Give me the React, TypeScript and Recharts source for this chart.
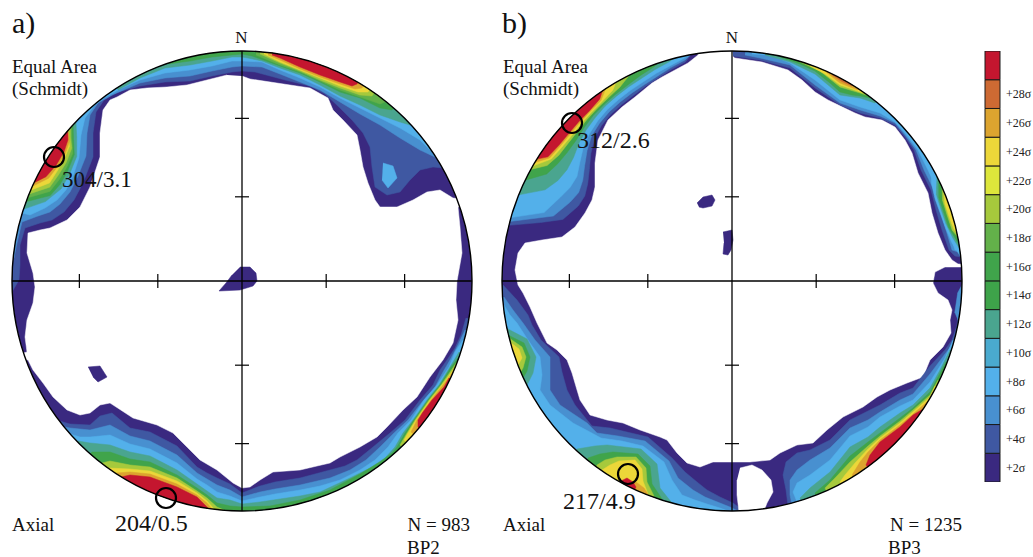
import React from 'react';
import { ScatterChart, Scatter, XAxis, YAxis, ReferenceLine, ReferenceDot, BarChart, Bar } from 'recharts';

type Pt = [number, number];
type Band = { sigma: number; pts: Pt[]; form?: 'rim' | 'closed' | 'polar' };

// projection units: primitive circle radius, x = east, y = north
const PRIMITIVE = 230;
const PAD = 5;
const SIZE = PRIMITIVE * 2 + PAD * 2;
const MARGIN = { top: PAD, right: PAD, bottom: PAD, left: PAD };
const TICK_PLUNGES = [30, 60];
const TICK_HALF = 7;

const SIGMA_LEVELS = [2, 4, 6, 8, 10, 12, 14, 16, 18, 20, 22, 24, 26, 28, 30];
const SIGMA_COLORS: Record<number, string> = {
  0: '#ffffff',
  2: '#3a2980', 4: '#3f58a2', 6: '#4890d0', 8: '#53b0ea', 10: '#4aaacf',
  12: '#4aa58f', 14: '#3ea34a', 16: '#40a44b', 18: '#63b14a', 20: '#a6c93c',
  22: '#dde63b', 24: '#ecd739', 26: '#dca42f', 28: '#cd6a33', 30: '#c4162f',
};

const FULL_DISK: Pt[] = [[-260, -260], [260, -260], [260, 260], [-260, 260]];

// ---------- a) BP2 ----------
const A_INTERIOR: Pt[] = [[0,205],[8,202],[48,196],[68,193],[86,183],[91,171],[101,161],[115,146],[118,131],[121,114],[126,98],[133,81],[138,74],[155,74],[171,81],[185,89],[198,91],[211,83],[238,80],[216,74],[218,54],[220,28],[215,0],[214,-19],[216,-39],[211,-62],[201,-79],[188,-96],[175,-116],[161,-129],[145,-146],[135,-156],[118,-166],[98,-176],[88,-182],[75,-185],[58,-189],[31,-191],[18,-199],[8,-206],[0,-207],[-9,-202],[-25,-189],[-42,-179],[-55,-166],[-69,-152],[-85,-144],[-109,-137],[-132,-122],[-142,-124],[-152,-132],[-162,-134],[-175,-129],[-189,-116],[-199,-102],[-209,-89],[-214,-79],[-237,-77],[-215,-71],[-217,-56],[-215,-39],[-209,-22],[-207,-6],[-209,8],[-215,28],[-214,48],[-202,51],[-192,53],[-175,61],[-162,74],[-152,94],[-142,124],[-142,148],[-139,171],[-132,181],[-125,184],[-112,191],[-95,193],[-75,194],[-55,196],[-35,201],[-15,206]];
const A_CENTRE_BLOB: Pt[] = [[-2,14],[8,14],[14,8],[15,0],[11,-5],[-2,-9],[-23,-10],[-16,-2],[-10,6]];
const A_WEST_BLOB: Pt[] = [[-154,-86],[-142,-85],[-135,-96],[-144,-101],[-149,-96]];

const A4_NORTH: Pt[] = [[-230,-11],[-223,1],[-222,16],[-222,36],[-217,53],[-202,58],[-190,61],[-178,69],[-168,81],[-159,98],[-149,124],[-149,148],[-146,169],[-138,181],[-124,189],[-102,195],[-77,199],[-52,200],[-30,205],[-10,209],[0,210],[13,209],[43,201],[68,195],[83,187],[98,173],[110,161],[121,148],[128,134],[130,114],[133,94],[145,86],[158,89],[168,101],[178,111],[191,114],[201,113]];
const A4_SOUTH: Pt[] = [[224,-37],[219,-54],[213,-67],[205,-79],[198,-89],[191,-104],[178,-119],[163,-139],[148,-152],[131,-166],[115,-179],[103,-185],[88,-189],[58,-197],[33,-201],[18,-205],[0,-212],[-12,-203],[-25,-197],[-35,-192],[-45,-186],[-65,-165],[-92,-151],[-112,-147],[-130,-132],[-142,-135],[-152,-144],[-172,-143],[-186,-139]];
const A6_NORTH: Pt[] = [[-228,23],[-225,38],[-220,59],[-204,65],[-192,69],[-182,77],[-172,89],[-164,105],[-156,125],[-155,148],[-152,166],[-144,178],[-130,186],[-102,198],[-77,203],[-52,205],[-30,210],[-10,214],[0,215],[20,214],[38,207],[58,199],[78,191],[98,179],[118,167],[138,156],[158,143],[178,131],[195,123]];
const A6_SOUTH: Pt[] = [[223,-49],[216,-64],[208,-79],[201,-91],[193,-106],[180,-121],[166,-139],[152,-152],[138,-166],[124,-179],[108,-189],[88,-197],[58,-204],[33,-208],[18,-211],[0,-216],[-12,-209],[-25,-204],[-35,-198],[-45,-192],[-65,-174],[-92,-160],[-112,-155],[-132,-144],[-152,-149],[-172,-147],[-182,-145]];
const A8_NORTH: Pt[] = [[-220,68],[-212,66],[-197,73],[-185,81],[-176,91],[-169,105],[-163,123],[-161,146],[-157,163],[-148,175],[-138,183],[-122,192],[-102,201],[-77,208],[-52,211],[-30,215],[-10,220],[0,220],[20,219],[38,211],[58,203],[78,194],[98,183],[118,173],[138,163],[158,153],[178,141],[188,131]];
const A8_SOUTH: Pt[] = [[221,-59],[213,-71],[207,-86],[195,-104],[182,-119],[169,-139],[156,-152],[146,-166],[133,-179],[118,-189],[98,-199],[78,-205],[58,-209],[33,-213],[18,-216],[0,-220],[-12,-215],[-25,-211],[-35,-204],[-45,-198],[-65,-182],[-92,-168],[-112,-163],[-132,-154],[-152,-156],[-162,-156],[-172,-153]];
const A8_SPOT: Pt[] = [[141,118],[151,115],[155,103],[146,93],[140,101]];
const A12_NW: Pt[] = [[288,231],[292,212],[297,203],[302,203],[307,207],[311,219],[314,231]];
const A12_TOP: Pt[] = [[-124,191],[-102,203],[-77,213],[-52,216],[-30,220],[-10,224],[0,224],[6,223],[20,220],[38,213],[58,206],[78,196],[98,185],[118,176],[138,166],[158,159],[168,156]];
const A12_SOUTH: Pt[] = [[217,-71],[208,-86],[197,-104],[185,-119],[171,-139],[161,-152],[153,-166],[143,-177],[128,-187],[108,-197],[78,-211],[58,-215],[18,-221],[0,-223],[-12,-219],[-25,-217],[-35,-210],[-45,-203],[-65,-189],[-92,-175],[-112,-171],[-132,-164],[-152,-162],[-164,-160]];
const A16_NW: Pt[] = [[290,231],[294,210],[298,206],[302,206],[307,210],[310,220],[313,231]];
const A16_TOP: Pt[] = [[-74,217],[-52,220],[-30,224],[-10,226],[0,227],[10,225],[38,215],[58,208],[78,199],[98,189],[118,183],[138,173],[150,171]];
const A16_SOUTH: Pt[] = [[216,-77],[209,-86],[198,-104],[186,-119],[172,-139],[163,-152],[155,-166],[150,-172],[138,-181],[118,-193],[88,-209],[58,-219],[28,-225],[0,-226],[-12,-225],[-25,-222],[-35,-214],[-45,-207],[-65,-194],[-92,-181],[-112,-178],[-132,-171],[-150,-171]];
const A18_NW: Pt[] = [[291,231],[295,212],[299,209],[303,209],[307,212],[310,222],[312.5,231]];
const A18_NE: Pt[] = [[14,226],[38,216],[58,209],[78,200],[98,191],[118,184],[138,177],[143,179]];
const A20_NW: Pt[] = [[292,231],[296,214],[300,212],[304,212],[308,216],[310,224],[312,231]];
const A20_NE: Pt[] = [[18,227],[38,218],[58,210],[78,201],[98,193],[118,186],[130,185]];
const A20_SE: Pt[] = [[215,-81],[199,-104],[187,-119],[173,-139],[165,-152],[158,-164]];
const A20_SW: Pt[] = [[-140,-182],[-132,-180],[-112,-184],[-92,-186],[-65,-197],[-45,-210],[-35,-217],[-25,-226],[-18,-229]];
const A24_NW: Pt[] = [[293,231],[297,216],[301,215],[305,216],[308,219],[311,231]];
const A24_NE: Pt[] = [[22,227],[38,219],[58,211],[78,203],[98,195],[116,189],[126,189]];
const A24_SE: Pt[] = [[214,-85],[200,-104],[188,-119],[174,-139],[166,-152],[162,-159]];
const A24_SW: Pt[] = [[-134,-187],[-112,-188],[-92,-190],[-65,-200],[-45,-212],[-35,-220],[-28,-228]];
const A26_NW: Pt[] = [[294,231],[298,219],[302,217],[306,218],[309,222],[311,231]];
const A26_NE: Pt[] = [[26,226],[38,221],[58,212],[78,204],[98,197],[113,192],[120,193]];
const A26_SE: Pt[] = [[211,-91],[201,-104],[189,-119],[175,-139],[169,-151]];
const A26_SW: Pt[] = [[-126,-192],[-112,-191],[-92,-193],[-65,-203],[-45,-214],[-35,-222],[-30,-228]];
const A30_NW: Pt[] = [[295,231],[298,222],[302,219],[306,220],[309,224],[311,231]];
const A30_NE: Pt[] = [[30,226],[38,223],[58,214],[78,206],[98,199],[110,195],[115,197]];
const A30_SE: Pt[] = [[207,-97],[202,-106],[190,-119],[181,-131],[176,-139],[176,-146]];
const A30_SW: Pt[] = [[-121,-196],[-112,-194],[-92,-196],[-65,-206],[-45,-216],[-37,-224],[-33,-228]];
const A_MAXIMA = [{ x: -188, y: 124 }, { x: -76, y: -217 }];

// ---------- b) BP3 ----------
const B_INTERIOR: Pt[] = [[3,223],[30,219],[56,211],[70,201],[83,189],[96,181],[123,168],[133,164],[150,161],[163,154],[173,141],[180,128],[186,108],[196,88],[200,68],[206,48],[213,31],[220,21],[226,17],[243,16],[228,14],[213,14],[203,9],[201,-2],[206,-12],[216,-19],[220,-29],[218,-39],[219,-52],[211,-66],[198,-79],[191,-96],[175,-102],[158,-109],[145,-116],[131,-126],[111,-136],[95,-149],[81,-162],[65,-164],[48,-172],[38,-179],[18,-181],[0,-181],[-19,-181],[-32,-186],[-45,-182],[-55,-172],[-65,-159],[-72,-156],[-92,-149],[-109,-142],[-125,-139],[-142,-134],[-152,-119],[-155,-109],[-160,-92],[-165,-79],[-175,-69],[-185,-62],[-195,-42],[-202,-26],[-209,-12],[-214,-4],[-217,11],[-214,28],[-207,38],[-190,41],[-170,44],[-157,54],[-147,68],[-140,81],[-137,94],[-137,118],[-134,141],[-124,161],[-110,174],[-97,184],[-80,198],[-70,204],[-57,211],[-44,218],[-34,226],[-34,250],[0,250],[1,225]];
const B_BLOB_NORTH: Pt[] = [[-35,78],[-29,84],[-20,86],[-17,81],[-20,75],[-29,73],[-33,74]];
const B_BLOB_AXIS: Pt[] = [[-9,49],[0,51],[1,41],[-1,31],[-4,26],[-9,27],[-8,38]];
const B_HOLE: Pt[] = [[8,-187],[20,-184],[30,-189],[39,-199],[41,-211],[35,-222],[28,-240],[8,-240],[5,-214],[5,-199]];

const B4_NW: Pt[] = [[284,230],[287,200],[290,180],[296,171],[300,170],[304,174],[308,181],[312,190],[316,198],[320,203],[324,206],[328,208],[332,210],[336,213],[340,216],[344,220],[348,224],[350,231]];
const B6_NW: Pt[] = [[285,230],[290,190],[296,180],[300,177],[304,180],[308,187],[312,195],[316,202],[320,206],[324,209],[328,211],[332,213],[336,215],[340,218],[344,222],[348,226],[350,231]];
const B8_NW: Pt[] = [[286,230],[290,200],[296,191],[300,187],[304,187],[308,193],[312,200],[316,205],[320,209],[324,212],[328,214],[332,216],[336,218],[340,221],[344,224],[348,228],[350,231]];
const B12_NW: Pt[] = [[292,230],[296,208],[300,201],[304,199],[308,201],[312,206],[316,210],[320,213],[324,216],[328,218],[332,220],[336,222],[340,225],[344,228],[346,231]];
const B16_NW: Pt[] = [[296,230],[300,214],[304,210],[308,209],[312,210],[316,213],[320,216],[324,218],[328,220],[332,222],[336,225],[340,228],[342,231]];
const B20_NW: Pt[] = [[299,230],[302,218],[306,214],[310,214],[314,215],[318,217],[322,219],[326,221],[330,224],[334,231]];
const B24_NW: Pt[] = [[300,230],[304,218],[308,216.5],[312,216.5],[316,218],[320,219.5],[324,221.5],[328,225],[330,231]];
const B26_NW: Pt[] = [[301,230],[304,220],[308,218.5],[312,218.5],[316,219.5],[320,221],[324,223],[327,231]];
const B30_NW: Pt[] = [[302,230],[304,222],[308,220],[312,220],[316,221],[320,222],[324,225],[326,231]];

const B4_NE: Pt[] = [[1,225],[28,221],[58,213],[83,193],[108,176],[128,168],[148,163],[163,156],[173,144],[182,131],[189,111],[199,91],[204,71],[210,51],[217,31],[223,25],[229,24]];
const B6_NE: Pt[] = [[13,226],[28,223],[58,216],[83,196],[108,178],[128,171],[148,165],[163,158],[173,146],[184,131],[192,111],[202,91],[208,71],[214,51],[220,31],[226,29]];
const B8_NE: Pt[] = [[20,227],[38,226],[58,218],[83,201],[108,181],[128,174],[148,168],[163,159],[173,148],[186,131],[196,111],[205,91],[212,71],[217,51],[223,31],[227,31]];
const B12_NE: Pt[] = [[33,226],[58,219],[83,207],[108,186],[128,183],[143,178]];
const B16_NE: Pt[] = [[48,224],[68,217],[83,210],[98,198],[108,189],[120,186],[128,185],[138,183]];
const B20_NE: Pt[] = [[68,219],[88,210],[108,194],[128,188],[134,186]];
const B24_NE: Pt[] = [[78,215],[93,207],[108,196],[120,192],[128,189],[131,188]];
const B26_NE: Pt[] = [[94,209],[108,198],[118,194],[126,191]];
const B28_NE: Pt[] = [[100,206],[110,199.5],[120,195]];
// eastern maximum, azimuth / radius
const B8_E: Pt[] = [[60,230],[64,222],[68,219],[72,219],[76,220],[80,223],[84,230]];
const B12_E: Pt[] = [[63,230],[67,222],[71,221],[75,221.5],[79,225],[82,230]];
const B16_E: Pt[] = [[64,230],[68,223],[72,222.5],[76,223],[79,227],[81,230]];
const B20_E: Pt[] = [[66,230],[69,225.5],[73,225],[77,226],[79,230]];
const B24_E: Pt[] = [[67,230],[70,226.5],[74,226.5],[77,228],[78,230]];
const B6_EAST_RIM: Pt[] = [[91,230],[93,226],[98,225],[100,230]];

const B4_SE: Pt[] = [[227,-24],[225,-44],[220,-59],[213,-69],[198,-85],[181,-107],[168,-112],[148,-124],[136,-130],[118,-139],[98,-159],[78,-169],[65,-172],[54,-181],[51,-194],[54,-209],[56,-225]];
const B6_SE: Pt[] = [[225,-49],[220,-64],[213,-73],[198,-93],[181,-113],[168,-119],[148,-131],[136,-139],[118,-147],[98,-167],[78,-179],[65,-189],[58,-199],[58,-214],[60,-224]];
const B8_SE: Pt[] = [[221,-59],[213,-77],[198,-101],[181,-119],[168,-125],[148,-136],[136,-146],[118,-155],[98,-179],[78,-194],[65,-202],[61,-211],[65,-221]];
const B12_SE: Pt[] = [[218,-69],[208,-89],[198,-107],[181,-124],[168,-132],[148,-146],[136,-156],[118,-166],[98,-191],[78,-207],[68,-217]];
const B16_SE: Pt[] = [[214,-81],[198,-111],[181,-127],[168,-137],[148,-152],[136,-161],[118,-175],[98,-199],[83,-212]];
const B20_SE: Pt[] = [[206,-99],[198,-114],[181,-129],[168,-140],[148,-155],[136,-165],[118,-181],[103,-197],[93,-207]];
const B24_SE: Pt[] = [[203,-105],[198,-116],[181,-131],[168,-142],[148,-157],[136,-168],[123,-182],[113,-194],[108,-201]];
const B26_SE: Pt[] = [[196,-120],[181,-133],[168,-144],[148,-159],[136,-171],[128,-181],[120,-194]];
const B30_SE: Pt[] = [[191,-128],[181,-134],[168,-146],[148,-161],[138,-174],[134,-184]];

const B4_SW: Pt[] = [[-229,-4],[-215,-19],[-204,-34],[-200,-44],[-191,-59],[-173,-76],[-170,-91],[-165,-109],[-157,-124],[-140,-145],[-122,-147],[-84,-156],[-60,-177],[-47,-191],[-35,-201],[-25,-209],[-12,-216],[1,-222],[13,-231]];
const B6_SW: Pt[] = [[-228,-16],[-219,-29],[-209,-42],[-197,-59],[-182,-76],[-182,-94],[-182,-109],[-172,-124],[-145,-142],[-135,-152],[-114,-155],[-87,-160],[-63,-180],[-54,-197],[-39,-209],[-27,-216],[-12,-222],[-2,-226],[6,-230]];
const B8_SW: Pt[] = [[-228,-24],[-222,-34],[-215,-42],[-204,-59],[-192,-76],[-190,-94],[-192,-109],[-182,-124],[-159,-142],[-142,-151],[-131,-157],[-110,-160],[-89,-165],[-68,-181],[-60,-199],[-50,-214],[-37,-219],[-25,-223],[-12,-227],[-4,-230]];
const B12_W: Pt[] = [[-226,-47],[-205,-58],[-196,-76],[-199,-92],[-205,-104]];
const B16_W: Pt[] = [[-224,-54],[-208,-62],[-202,-76],[-205,-90],[-209,-97]];
const B20_W: Pt[] = [[-223,-57],[-210,-66],[-206,-76],[-209,-87],[-212,-92]];
const B24_W: Pt[] = [[-222,-61],[-213,-68],[-210,-77],[-214,-84]];
const B12_S: Pt[] = [[-155,-168],[-137,-165],[-125,-164],[-91,-168],[-75,-183],[-72,-207],[-60,-222]];
const B16_S: Pt[] = [[-144,-177],[-132,-173],[-119,-171],[-94,-173],[-82,-185],[-80,-203],[-70,-218]];
const B20_S: Pt[] = [[-135,-184],[-127,-179],[-115,-176],[-96,-176],[-86,-187],[-85,-201],[-78,-215]];
const B24_S: Pt[] = [[-130,-189],[-122,-184],[-113,-180],[-97,-179],[-90,-188],[-89,-200],[-84,-213]];
const B26_S: Pt[] = [[-104,-203],[-96,-201],[-88,-207],[-84,-213]];
const B30_S: Pt[] = [[-111,-200],[-105,-197],[-99,-201],[-96,-206]];
const B_MAXIMA = [{ x: -160, y: 158 }, { x: -104, y: -193 }];

const PANEL_A: Band[] = [
  { sigma: 2, pts: FULL_DISK, form: 'closed' },
  { sigma: 0, pts: A_INTERIOR, form: 'closed' },
  { sigma: 2, pts: A_CENTRE_BLOB, form: 'closed' },
  { sigma: 2, pts: A_WEST_BLOB, form: 'closed' },
  { sigma: 4, pts: A4_NORTH }, { sigma: 4, pts: A4_SOUTH },
  { sigma: 6, pts: A6_NORTH }, { sigma: 6, pts: A6_SOUTH },
  { sigma: 8, pts: A8_NORTH }, { sigma: 8, pts: A8_SOUTH }, { sigma: 8, pts: A8_SPOT, form: 'closed' },
  { sigma: 12, pts: A12_NW, form: 'polar' }, { sigma: 12, pts: A12_TOP }, { sigma: 12, pts: A12_SOUTH },
  { sigma: 16, pts: A16_NW, form: 'polar' }, { sigma: 16, pts: A16_TOP }, { sigma: 16, pts: A16_SOUTH },
  { sigma: 18, pts: A18_NW, form: 'polar' }, { sigma: 18, pts: A18_NE },
  { sigma: 20, pts: A20_NW, form: 'polar' }, { sigma: 20, pts: A20_NE }, { sigma: 20, pts: A20_SE }, { sigma: 20, pts: A20_SW },
  { sigma: 24, pts: A24_NW, form: 'polar' }, { sigma: 24, pts: A24_NE }, { sigma: 24, pts: A24_SE }, { sigma: 24, pts: A24_SW },
  { sigma: 26, pts: A26_NW, form: 'polar' }, { sigma: 26, pts: A26_NE }, { sigma: 26, pts: A26_SE }, { sigma: 26, pts: A26_SW },
  { sigma: 30, pts: A30_NW, form: 'polar' }, { sigma: 30, pts: A30_NE }, { sigma: 30, pts: A30_SE }, { sigma: 30, pts: A30_SW },
];

const PANEL_B: Band[] = [
  { sigma: 2, pts: FULL_DISK, form: 'closed' },
  { sigma: 0, pts: B_INTERIOR, form: 'closed' },
  { sigma: 2, pts: B_BLOB_NORTH, form: 'closed' },
  { sigma: 2, pts: B_BLOB_AXIS, form: 'closed' },
  { sigma: 4, pts: B4_NW, form: 'polar' }, { sigma: 4, pts: B4_NE }, { sigma: 4, pts: B4_SE }, { sigma: 4, pts: B4_SW },
  { sigma: 6, pts: B6_NW, form: 'polar' }, { sigma: 6, pts: B6_NE }, { sigma: 6, pts: B6_EAST_RIM, form: 'polar' }, { sigma: 6, pts: B6_SE }, { sigma: 6, pts: B6_SW },
  { sigma: 8, pts: B8_NW, form: 'polar' }, { sigma: 8, pts: B8_NE }, { sigma: 8, pts: B8_E, form: 'polar' }, { sigma: 8, pts: B8_SE }, { sigma: 8, pts: B8_SW },
  { sigma: 12, pts: B12_NW, form: 'polar' }, { sigma: 12, pts: B12_NE }, { sigma: 12, pts: B12_E, form: 'polar' }, { sigma: 12, pts: B12_SE }, { sigma: 12, pts: B12_W }, { sigma: 12, pts: B12_S },
  { sigma: 16, pts: B16_NW, form: 'polar' }, { sigma: 16, pts: B16_NE }, { sigma: 16, pts: B16_E, form: 'polar' }, { sigma: 16, pts: B16_SE }, { sigma: 16, pts: B16_W }, { sigma: 16, pts: B16_S },
  { sigma: 20, pts: B20_NW, form: 'polar' }, { sigma: 20, pts: B20_NE }, { sigma: 20, pts: B20_E, form: 'polar' }, { sigma: 20, pts: B20_SE }, { sigma: 20, pts: B20_W }, { sigma: 20, pts: B20_S },
  { sigma: 24, pts: B24_NW, form: 'polar' }, { sigma: 24, pts: B24_NE }, { sigma: 24, pts: B24_E, form: 'polar' }, { sigma: 24, pts: B24_SE }, { sigma: 24, pts: B24_W }, { sigma: 24, pts: B24_S },
  { sigma: 26, pts: B26_NW, form: 'polar' }, { sigma: 26, pts: B26_NE }, { sigma: 26, pts: B26_SE }, { sigma: 26, pts: B26_S },
  { sigma: 28, pts: B28_NE },
  { sigma: 30, pts: B30_NW, form: 'polar' }, { sigma: 30, pts: B30_SE }, { sigma: 30, pts: B30_S },
  { sigma: 0, pts: B_HOLE, form: 'closed' },
];

const rad = (d: number) => (d * Math.PI) / 180;

// azimuth/radius pairs to x/y
function fromPolar(pts: Pt[]): Pt[] {
  return pts.map(([az, r]) => [r * Math.sin(rad(az)), r * Math.cos(rad(az))]);
}

// a band is given by its inner edge from rim to rim; close it outside the primitive (clipped away)
function closeOutside(pts: Pt[]): Pt[] {
  const az = pts.map(([x, y]) => Math.atan2(x, y));
  let sweep = 0;
  for (let i = 1; i < az.length; i++) {
    let d = az[i] - az[i - 1];
    while (d > Math.PI) d -= 2 * Math.PI;
    while (d < -Math.PI) d += 2 * Math.PI;
    sweep += d;
  }
  const start = az[0];
  const end = az[0] + sweep;
  const n = Math.max(2, Math.ceil(Math.abs(sweep) / (Math.PI / 12)));
  const out = PRIMITIVE * 1.3;
  const back: Pt[] = [];
  for (let k = 0; k <= n; k++) {
    const a = end + ((start - end) * k) / n;
    back.push([out * Math.sin(a), out * Math.cos(a)]);
  }
  return [...pts, ...back];
}

function outline(b: Band): Pt[] {
  if (b.form === 'closed') return b.pts;
  if (b.form === 'polar') return closeOutside(fromPolar(b.pts));
  return closeOutside(b.pts);
}

// equal-area radius for a plunge
const tickRadius = (plunge: number) => PRIMITIVE * Math.SQRT2 * Math.sin(rad((90 - plunge) / 2));

const NoPoint = () => null;
const Ring = (p: any) => <circle cx={p.cx} cy={p.cy} r={10} fill="none" stroke="#000" strokeWidth={2.2} />;

function Axes() {
  return [
    <XAxis key="x" type="number" dataKey="x" domain={[-PRIMITIVE, PRIMITIVE]} hide allowDataOverflow />,
    <YAxis key="y" type="number" dataKey="y" domain={[-PRIMITIVE, PRIMITIVE]} hide allowDataOverflow />,
  ];
}

function Contours({ bands }: { bands: Band[] }) {
  return (
    <ScatterChart width={SIZE} height={SIZE} margin={MARGIN}>
      {Axes()}
      {bands.map((b, i) => {
        const color = SIGMA_COLORS[b.sigma];
        return (
          <Scatter
            key={i}
            data={outline(b).map(([x, y]) => ({ x, y }))}
            fill={color}
            line={{ fill: color, stroke: color, strokeWidth: 0.5 }}
            lineType="joint"
            shape={NoPoint}
            isAnimationActive={false}
          />
        );
      })}
    </ScatterChart>
  );
}

function Frame({ maxima }: { maxima: { x: number; y: number }[] }) {
  const radii = TICK_PLUNGES.map(tickRadius).flatMap((r) => [r, -r]);
  return (
    <ScatterChart width={SIZE} height={SIZE} margin={MARGIN}>
      {Axes()}
      <ReferenceLine x={0} stroke="#000" strokeWidth={1.3} />
      <ReferenceLine y={0} stroke="#000" strokeWidth={1.3} />
      {radii.map((r) => (
        <ReferenceLine key={`ew${r}`} segment={[{ x: r, y: -TICK_HALF }, { x: r, y: TICK_HALF }]} stroke="#000" strokeWidth={1.2} />
      ))}
      {radii.map((r) => (
        <ReferenceLine key={`ns${r}`} segment={[{ x: -TICK_HALF, y: r }, { x: TICK_HALF, y: r }]} stroke="#000" strokeWidth={1.2} />
      ))}
      <ReferenceDot x={0} y={0} r={PRIMITIVE} fill="none" stroke="#000" strokeWidth={1.4} ifOverflow="visible" />
      <Scatter data={maxima} shape={Ring} isAnimationActive={false} />
    </ScatterChart>
  );
}

const legendRow = [Object.fromEntries([['name', 'density'], ...SIGMA_LEVELS.map((s) => [`s${s}`, 2])])];
const LEGEND_TICKS = SIGMA_LEVELS.slice(0, -1).map((s) => s - 1);

function ColourBar() {
  return (
    <BarChart width={60} height={431} data={legendRow} margin={{ top: 0, right: 0, bottom: 0, left: 0 }} barSize={15}>
      <XAxis dataKey="name" hide />
      <YAxis
        orientation="right"
        type="number"
        domain={[0, 30]}
        ticks={LEGEND_TICKS}
        interval={0}
        tickFormatter={(v: number) => `+${v + 1}σ`}
        axisLine={false}
        tickLine={false}
        tickSize={0}
        tickMargin={4}
        width={40}
        tick={{ fontSize: 12, fill: '#222', fontFamily: '"Liberation Serif", "Times New Roman", serif' }}
      />
      {SIGMA_LEVELS.map((s) => (
        <Bar key={s} dataKey={`s${s}`} stackId="c" fill={SIGMA_COLORS[s]} stroke="#1a1a1a" strokeWidth={1} isAnimationActive={false} />
      ))}
    </BarChart>
  );
}

const PANELS = [
  { id: 'a', left: 7, top: 46, bands: PANEL_A, maxima: A_MAXIMA },
  { id: 'b', left: 497, top: 46, bands: PANEL_B, maxima: B_MAXIMA },
];

const serif = '"Liberation Serif", "Times New Roman", serif';

export default function App() {
  return (
    <div style={{ position: 'relative', width: 1033, height: 557, background: '#fff', overflow: 'hidden' }}>
      <style>{'body{margin:0}'}</style>
      {PANELS.map((p) => (
        <div key={p.id}>
          <div
            style={{
              position: 'absolute', left: p.left, top: p.top, width: SIZE, height: SIZE,
              clipPath: `circle(${PRIMITIVE}px at ${SIZE / 2}px ${SIZE / 2}px)`,
            }}
          >
            <Contours bands={p.bands} />
          </div>
          <div style={{ position: 'absolute', left: p.left, top: p.top, width: SIZE, height: SIZE }}>
            <Frame maxima={p.maxima} />
          </div>
        </div>
      ))}
      <svg width={1033} height={557} style={{ position: 'absolute', left: 0, top: 0, pointerEvents: 'none' }} fontFamily={serif} fill="#111">
        <text x={12} y={33} fontSize={30}>a)</text>
        <text x={241.5} y={43} fontSize={17} textAnchor="middle">N</text>
        <text x={12} y={73} fontSize={19}>Equal Area</text>
        <text x={12} y={95} fontSize={19}>(Schmidt)</text>
        <text x={62} y={187} fontSize={23}>304/3.1</text>
        <text x={115} y={531} fontSize={24}>204/0.5</text>
        <text x={12} y={531} fontSize={19}>Axial</text>
        <text x={470} y={531} fontSize={19} textAnchor="end">N = 983</text>
        <text x={407} y={554} fontSize={19}>BP2</text>

        <text x={502} y={33} fontSize={30}>b)</text>
        <text x={732} y={43} fontSize={17} textAnchor="middle">N</text>
        <text x={503} y={73} fontSize={19}>Equal Area</text>
        <text x={503} y={95} fontSize={19}>(Schmidt)</text>
        <text x={577} y={148} fontSize={24}>312/2.6</text>
        <text x={563} y={509} fontSize={24}>217/4.9</text>
        <text x={503} y={531} fontSize={19}>Axial</text>
        <text x={962} y={531} fontSize={19} textAnchor="end">N = 1235</text>
        <text x={888} y={554} fontSize={19}>BP3</text>
      </svg>
      <div style={{ position: 'absolute', left: 982, top: 51 }}>
        <ColourBar />
      </div>
    </div>
  );
}
